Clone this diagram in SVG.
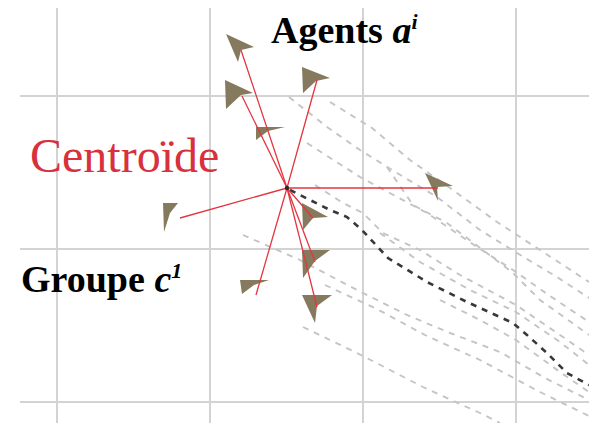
<svg xmlns="http://www.w3.org/2000/svg" width="589" height="423" viewBox="0 0 589 423">
<style>
.grid{stroke:#d3d3d3;stroke-width:2;fill:none}
.traj{stroke:#c4c4c4;stroke-width:1.9;stroke-dasharray:6 6;fill:none}
.main{stroke:#383838;stroke-width:2.6;stroke-dasharray:6 6;fill:none}
.link{stroke:#e4363f;stroke-width:1.3;fill:none}
.agent{fill:#857a5e}
.lbl{font-family:"Liberation Serif","Times New Roman",serif;fill:#000;font-weight:bold}
.red{font-family:"Liberation Serif","Times New Roman",serif;fill:#d8313c}
</style>
<rect width="589" height="423" fill="#fff"/>
<g id="grid">
<path class="grid" d="M57,8V423M210,8V423M363,8V423M516,8V423M20,96H589M20,249H589M20,402H589"/>
</g>
<g id="trajectories">
<polyline class="traj" points="289,97 327,127 360,150 397,173 437,197 480,230 517,253 557,277 589,298"/>
<polyline class="traj" points="330,102 372,128 410,160 450,188 497,222 540,250 589,282"/>
<polyline class="traj" points="307,143 360,177 427,213 477,247 513,270 550,296 589,322"/>
<polyline class="traj" points="387,167 413,205 447,223 483,250 513,273 540,300 589,335"/>
<polyline class="traj" points="315,185 343,203 363,213 383,233 420,250 460,275 516,305 560,335 589,355"/>
<polyline class="traj" points="380,233 420,262 470,290 516,312 560,342 589,365"/>
<polyline class="traj" points="243,235 300,260 357,290 407,315 450,333 500,352 545,378 589,400"/>
<polyline class="traj" points="325,285 375,308 425,335 480,360 540,392 589,416"/>
<polyline class="traj" points="303,327 357,353 423,387 480,413 500,423"/>
<polyline class="traj" points="440,300 480,320 516,340 560,372 589,392"/>
</g>
<g id="main-trajectory">
<polyline class="main" points="290,190 330,210 347,217 362,230 388,258 427,282 467,302 513,323 527,335 547,353 567,373 589,385"/>
</g>
<g id="agent-a"><polygon class="agent" points="226,34 254,47 241,50 238,62"/></g>
<g id="agent-b"><polygon class="agent" points="225,80 253,93 241,95 226,109"/></g>
<g id="agent-c"><polygon class="agent" points="302,67 330,78 316,81 303,93"/></g>
<g id="agent-d"><polygon class="agent" points="256,127 285,127 268,131 256,140"/></g>
<g id="agent-e"><polygon class="agent" points="425,173 453,186 437,187 438,201"/></g>
<g id="agent-f"><polygon class="agent" points="163,203 178,203 170,213 164,232"/></g>
<g id="agent-g"><polygon class="agent" points="302,203 328,217 313,218 303,230"/></g>
<g id="agent-h"><polygon class="agent" points="302,250 330,250 315,261 303,278"/></g>
<g id="agent-i"><polygon class="agent" points="240,280 269,280 254,285 242,294"/></g>
<g id="agent-j"><polygon class="agent" points="302,295 332,295 317,306 315,323"/></g>
<g id="connectors">
<line class="link" x1="287" y1="188" x2="241" y2="50"/>
<line class="link" x1="287" y1="188" x2="242" y2="96"/>
<line class="link" x1="287" y1="188" x2="317" y2="80"/>
<line class="link" x1="287" y1="188" x2="438" y2="188"/>
<line class="link" x1="287" y1="188" x2="180" y2="218"/>
<line class="link" x1="287" y1="188" x2="313" y2="218"/>
<line class="link" x1="287" y1="188" x2="315" y2="262"/>
<line class="link" x1="287" y1="188" x2="256" y2="295"/>
<line class="link" x1="287" y1="188" x2="317" y2="307"/>
</g>
<g id="centroid"><circle cx="287" cy="188" r="2.2" fill="#2a2a2a"/></g>
<g id="label-agents"><text class="lbl" x="271" y="43" font-size="38">Agents <tspan font-style="italic">a</tspan><tspan font-style="italic" font-size="22" dy="-14">i</tspan></text></g>
<g id="label-centroid"><text class="red" x="30" y="172" font-size="48">Centroïde</text></g>
<g id="label-group"><text class="lbl" x="21" y="292" font-size="38">Groupe <tspan font-style="italic">c</tspan><tspan font-style="italic" font-size="22" dy="-14">1</tspan></text></g>
</svg>
